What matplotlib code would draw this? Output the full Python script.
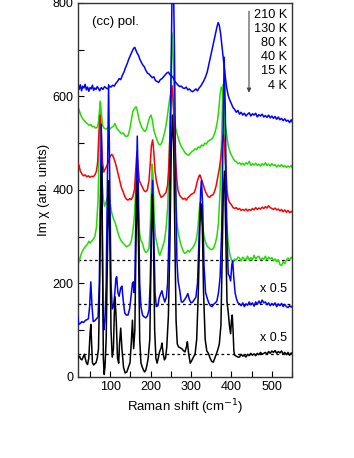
import matplotlib
matplotlib.use("Agg")
import matplotlib.pyplot as plt
from matplotlib.ticker import MultipleLocator

# ---------------- data (Raman shift cm^-1, Im chi arb. units) ----------------
temps = ["210 K", "130 K", "80 K", "40 K", "15 K", "4 K"]
scale_labels = ["x 0.5", "x 0.5"]
scale_label_y = [188, 83]
baselines = [250, 155, 48]

c210 = [(20,628),(23,615),(26,625),(29,612),(32,622),(35,618),(38,626),(41,614),(44,620),(47,611),(50,619),(53,616),(56,624),(59,613),(62,618),(65,615),(68,621),(71,617),(74,612),(78,619),(82,615),(86,621),(90,618),(94,616),(98,622),(102,620),(106,624),(110,622),(114,628),(118,632),(122,638),(126,636),(130,645),(134,652),(138,662),(142,670),(146,680),(150,688),(154,696),(158,703),(161,705),(164,698),(167,692),(170,688),(173,680),(176,675),(180,668),(184,664),(188,656),(192,650),(196,648),(200,644),(204,640),(208,642),(212,634),(216,632),(220,630),(224,636),(228,638),(232,642),(236,646),(240,650),(244,652),(248,646),(252,644),(256,640),(260,632),(264,628),(268,624),(272,621),(276,622),(280,618),(284,617),(288,620),(292,614),(296,616),(300,612),(304,610),(308,613),(312,616),(316,612),(320,618),(324,622),(328,628),(332,634),(336,642),(340,652),(344,668),(348,684),(352,700),(356,716),(360,732),(364,748),(367,758),(370,752),(373,736),(376,712),(380,680),(384,648),(388,620),(392,602),(396,592),(400,584),(404,576),(408,572),(412,566),(416,570),(420,562),(424,566),(428,560),(432,564),(436,558),(440,562),(444,565),(448,558),(452,563),(456,560),(460,564),(464,556),(468,561),(472,558),(476,562),(480,556),(484,559),(488,555),(492,560),(496,554),(500,558),(504,553),(508,557),(512,551),(516,556),(520,550),(524,553),(528,548),(532,552),(536,547),(540,549),(544,544),(548,550),(550,546)]

c130 = [(20,578),(24,568),(28,558),(32,552),(36,548),(40,544),(44,541),(48,538),(52,540),(56,535),(60,536),(64,532),(68,534),(71,545),(74,575),(76,586),(78,565),(81,538),(85,532),(90,530),(95,533),(100,531),(104,534),(108,536),(112,542),(116,532),(120,528),(124,524),(128,520),(132,522),(136,516),(140,514),(144,516),(148,528),(152,548),(156,568),(160,574),(164,578),(167,570),(170,556),(174,543),(178,534),(182,528),(186,525),(190,530),(194,545),(198,556),(201,560),(204,550),(208,528),(212,516),(216,506),(220,498),(224,496),(228,502),(232,514),(236,528),(240,548),(244,575),(248,600),(251,610),(254,600),(258,565),(262,532),(266,518),(270,506),(274,496),(278,490),(282,484),(286,478),(290,476),(294,474),(298,478),(302,482),(306,484),(310,488),(314,486),(318,492),(322,490),(326,496),(330,494),(334,500),(338,498),(342,504),(346,506),(350,508),(354,512),(358,520),(362,532),(366,550),(369,575),(372,605),(375,620),(378,612),(381,580),(384,545),(388,520),(392,495),(396,482),(400,474),(404,468),(408,462),(412,460),(416,456),(420,458),(424,454),(428,457),(432,453),(436,458),(440,455),(444,461),(448,452),(452,456),(456,453),(460,457),(464,452),(468,455),(472,451),(476,456),(480,453),(484,458),(488,452),(492,455),(496,451),(500,456),(504,452),(508,454),(512,449),(516,453),(520,450),(524,454),(528,449),(532,452),(536,448),(540,451),(544,449),(548,452),(550,448)]

c80 = [(20,458),(23,452),(26,440),(30,434),(34,430),(38,432),(42,428),(46,430),(50,427),(54,429),(58,428),(62,432),(66,440),(69,460),(72,520),(75,560),(78,520),(81,460),(84,438),(88,445),(92,452),(96,462),(100,472),(104,476),(108,470),(112,460),(116,447),(120,432),(124,418),(128,404),(132,396),(136,386),(140,380),(144,378),(148,381),(152,379),(156,386),(160,400),(163,440),(166,481),(169,450),(172,420),(176,412),(180,405),(184,398),(188,396),(192,400),(196,420),(199,455),(202,495),(205,507),(208,480),(211,440),(214,420),(218,405),(222,392),(226,384),(230,386),(234,390),(238,394),(242,410),(245,450),(248,520),(251,600),(253,623),(256,590),(259,520),(262,460),(265,420),(268,398),(272,388),(276,384),(280,380),(284,382),(288,378),(292,383),(296,386),(300,390),(304,392),(308,394),(312,405),(316,420),(320,430),(322,432),(326,422),(330,412),(334,400),(338,392),(342,386),(346,384),(350,388),(354,389),(358,396),(362,408),(366,426),(370,445),(374,470),(377,500),(380,518),(383,495),(386,450),(389,400),(392,380),(396,372),(400,368),(404,362),(408,360),(412,362),(416,358),(420,360),(424,356),(428,358),(432,356),(436,359),(440,355),(444,358),(448,356),(452,360),(456,357),(460,362),(464,358),(468,361),(472,359),(476,363),(480,360),(484,364),(488,361),(492,366),(496,362),(500,360),(504,358),(508,361),(512,357),(516,359),(520,355),(524,358),(528,353),(532,357),(536,352),(540,356),(544,351),(548,354),(550,352)]

c40 = [(20,240),(24,250),(28,262),(32,270),(36,276),(40,280),(44,284),(47,290),(50,286),(54,290),(58,294),(62,300),(66,320),(70,380),(73,500),(75,590),(77,520),(80,420),(83,380),(86,365),(89,372),(92,380),(95,388),(98,380),(101,366),(104,350),(108,338),(112,330),(116,318),(120,305),(124,296),(128,290),(132,286),(136,282),(140,278),(144,280),(148,282),(152,290),(156,310),(160,345),(163,400),(165,430),(167,410),(170,350),(173,305),(176,292),(180,285),(184,272),(188,266),(192,268),(196,275),(199,320),(202,400),(204,455),(206,430),(209,340),(212,300),(216,284),(220,266),(223,260),(226,268),(230,279),(234,290),(238,315),(242,360),(246,460),(250,620),(253,736),(256,680),(259,520),(262,400),(265,330),(268,310),(272,293),(276,280),(280,270),(284,264),(288,266),(292,270),(296,267),(300,272),(304,276),(308,282),(312,290),(316,310),(319,340),(322,372),(325,365),(328,330),(332,300),(336,288),(340,279),(344,276),(348,273),(352,272),(356,276),(360,285),(364,300),(368,330),(372,400),(376,520),(379,625),(382,560),(385,440),(388,340),(392,285),(396,262),(400,250),(404,246),(408,252),(412,250),(416,256),(420,254),(424,248),(428,256),(432,252),(436,250),(440,258),(444,249),(448,255),(452,250),(456,260),(460,252),(464,256),(468,258),(472,250),(476,254),(480,251),(484,258),(488,250),(492,256),(496,252),(500,255),(504,248),(508,252),(512,246),(516,250),(520,240),(524,238),(528,246),(532,242),(536,250),(540,254),(544,250),(548,256),(550,253)]

c15 = [(20,128),(22,112),(26,114),(30,118),(34,116),(38,120),(42,122),(46,124),(49,150),(52,203),(55,150),(58,118),(62,120),(66,124),(70,128),(73,200),(76,400),(78,540),(80,380),(82,160),(84,100),(87,120),(90,200),(93,420),(96,625),(99,420),(102,200),(105,145),(108,150),(111,175),(114,210),(116,214),(119,180),(122,172),(126,190),(129,194),(132,165),(136,136),(140,132),(144,132),(148,145),(152,175),(155,200),(157,203),(159,180),(161,200),(164,380),(167,515),(170,380),(173,200),(176,150),(180,132),(184,128),(188,126),(192,130),(196,143),(199,200),(202,330),(205,420),(208,300),(211,180),(214,150),(218,152),(221,168),(225,178),(228,184),(231,172),(235,160),(239,170),(242,200),(246,320),(250,600),(253,820),(256,870),(259,700),(262,420),(265,250),(268,205),(272,185),(276,160),(280,160),(284,165),(288,170),(292,178),(296,165),(300,158),(304,160),(308,165),(312,170),(316,200),(320,300),(324,400),(326,420),(329,360),(332,240),(336,180),(340,168),(344,158),(348,152),(352,150),(356,155),(360,158),(364,162),(368,180),(372,214),(376,320),(379,500),(382,684),(385,560),(388,330),(392,220),(395,215),(398,205),(401,240),(403,248),(406,210),(409,180),(412,168),(416,158),(420,156),(424,152),(428,158),(432,150),(436,156),(440,153),(444,160),(448,154),(452,158),(456,151),(460,160),(464,155),(468,162),(472,156),(476,164),(480,158),(484,160),(488,154),(492,158),(496,152),(500,157),(504,153),(508,158),(512,150),(516,156),(520,152),(524,157),(528,150),(532,155),(536,150),(540,148),(544,152),(548,149),(550,151)]

c4 = [(20,40),(24,44),(27,38),(30,36),(33,42),(36,48),(38,40),(41,30),(44,26),(47,40),(50,90),(52,112),(54,70),(56,30),(59,25),(62,28),(65,30),(68,40),(71,60),(74,200),(77,420),(79,450),(81,250),(83,40),(85,5),(87,20),(90,80),(93,250),(96,420),(99,300),(102,100),(105,42),(108,60),(110,130),(112,171),(115,120),(118,40),(121,29),(123,70),(126,104),(129,60),(133,20),(137,8),(141,10),(145,20),(149,30),(152,70),(155,121),(158,60),(161,100),(164,300),(167,420),(170,280),(173,80),(176,30),(179,21),(182,15),(185,10),(188,14),(191,25),(194,40),(198,80),(201,250),(204,390),(207,300),(210,100),(213,40),(216,29),(219,40),(222,53),(226,62),(228,72),(231,50),(234,36),(237,40),(240,64),(244,130),(248,300),(251,480),(254,560),(257,500),(260,300),(263,120),(266,70),(269,64),(273,62),(277,60),(281,56),(285,53),(289,65),(291,75),(294,50),(298,29),(302,35),(306,42),(310,48),(314,80),(318,180),(322,330),(325,370),(328,320),(331,180),(335,80),(339,55),(343,50),(347,40),(351,33),(355,31),(359,40),(363,50),(366,57),(370,70),(374,110),(377,250),(380,400),(383,440),(386,300),(389,160),(392,139),(395,110),(398,92),(400,120),(402,132),(404,100),(406,55),(408,46),(412,44),(416,42),(420,42),(424,48),(428,44),(432,46),(436,42),(440,48),(444,45),(448,50),(452,46),(456,49),(460,45),(464,50),(468,47),(472,52),(476,48),(480,50),(484,52),(488,48),(492,54),(496,50),(500,55),(504,52),(508,56),(512,50),(516,54),(520,51),(524,55),(528,48),(532,52),(536,47),(540,52),(544,46),(548,51),(550,48)]

curves = [c210, c130, c80, c40, c15, c4]
colors = ["#0000ff", "#22dd00", "#ff0000", "#22dd00", "#0000ff", "#000000"]
zorders = [2.5, 2.4, 2.6, 2.3, 2.7, 2.8]

# ---------------- figure ----------------
plt.rcParams['font.family'] = ['Liberation Sans', 'DejaVu Sans']
fig = plt.figure(figsize=(3.54, 4.58), dpi=100)
ax = fig.add_axes([0.220, 0.1775, 0.605, 0.816])

for yb in baselines:
    ax.axhline(yb, color="black", lw=0.9, ls=(0, (2.2, 2.2)), zorder=1)

for c, col, z in zip(curves, colors, zorders):
    xs = [p[0] for p in c]
    ys = [p[1] for p in c]
    ax.plot(xs, ys, color=col, lw=1.1, zorder=z)

ax.set_xlim(20, 550)
ax.set_ylim(0, 800)
ax.xaxis.set_major_locator(MultipleLocator(100))
ax.xaxis.set_minor_locator(MultipleLocator(50))
ax.yaxis.set_major_locator(MultipleLocator(200))
ax.yaxis.set_minor_locator(MultipleLocator(100))
ax.tick_params(which="both", direction="in", labelsize=9, pad=3)
ax.tick_params(which="major", length=4, width=0.8)
ax.tick_params(which="minor", length=4, width=0.8)
for s in ax.spines.values():
    s.set_linewidth(1.0)
    s.set_color("#333333")

ax.set_xlabel("Raman shift (cm$^{-1}$)", fontsize=9.5, labelpad=3)
ax.set_ylabel("Im \u03c7 (arb. units)", fontsize=9.5, labelpad=2)

ax.text(0.065, 0.948, "(cc) pol.", transform=ax.transAxes, fontsize=9.5,
        ha="left", va="center")

ty0 = 0.969
dty = 0.038
for k, t in enumerate(temps):
    ax.text(0.977, ty0 - k * dty, t, transform=ax.transAxes, fontsize=9.2,
            ha="right", va="center")
ax.annotate("", xy=(0.799, 0.760), xytext=(0.799, 0.978),
            xycoords="axes fraction",
            arrowprops=dict(arrowstyle="-|>", color="#444444", lw=0.8,
                            mutation_scale=6, shrinkA=0, shrinkB=0))

for lab, yv in zip(scale_labels, scale_label_y):
    ax.text(0.977, yv, lab, transform=ax.get_yaxis_transform(), fontsize=9,
            ha="right", va="center")

fig.savefig("out.png", dpi=100)
